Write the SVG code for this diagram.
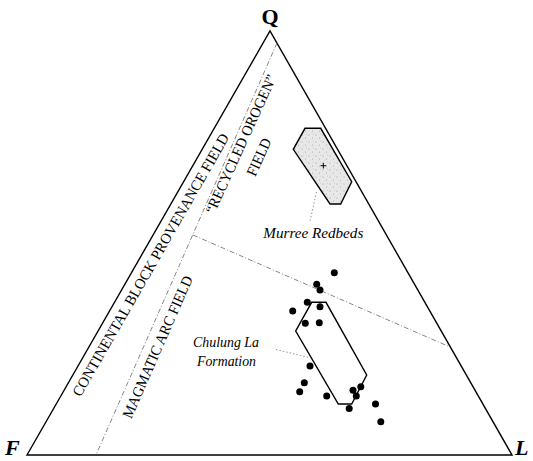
<svg xmlns="http://www.w3.org/2000/svg" width="533" height="461" viewBox="0 0 533 461">
<style>
  .edge { fill: none; stroke: #000; stroke-width: 1.4; stroke-linecap: round; }
  .bound { fill: none; stroke: #666; stroke-width: 0.8; stroke-dasharray: 5 2 1 2; }
  .leader { fill: none; stroke: #777; stroke-width: 0.8; stroke-dasharray: 1.5 2; }
  .poly { stroke: #000; stroke-width: 1.4; stroke-linejoin: miter; }
  .apex { font-family: "Liberation Serif", "Times New Roman", serif; font-weight: bold; font-size: 22px; fill: #000; }
  .field { font-family: "Liberation Serif", "Times New Roman", serif; font-size: 15px; fill: #000; }
  .name { font-family: "Liberation Serif", "Times New Roman", serif; font-style: italic; font-size: 14.5px; fill: #000; }
  .dot { fill: #000; }
</style>
<defs>
  <pattern id="stipple" width="7" height="7" patternUnits="userSpaceOnUse">
    <rect width="7" height="7" fill="#e8e8e8"/>
    <circle cx="1" cy="2" r="0.5" fill="#888"/>
    <circle cx="4.5" cy="5" r="0.5" fill="#999"/>
    <circle cx="5.5" cy="1" r="0.4" fill="#aaa"/>
    <circle cx="2.5" cy="6" r="0.35" fill="#aaa"/>
  </pattern>
</defs>

<g id="frame">
  <path class="edge" d="M27,455 L270,31 L512,455 Z"/>
</g>

<g id="connectors">
  <line class="bound" x1="277" y1="43" x2="96" y2="455"/>
  <line class="bound" x1="193" y1="235" x2="450" y2="347"/>
  <line class="leader" x1="316.5" y1="192" x2="310" y2="221"/>
  <line class="leader" x1="276" y1="349.5" x2="309" y2="357.5"/>
</g>

<g id="apex-labels">
  <text class="apex" x="270" y="24" text-anchor="middle">Q</text>
  <text class="apex" x="5" y="455" font-style="italic" font-size="23">F</text>
  <text class="apex" x="515" y="455" font-style="italic" font-size="23">L</text>
</g>

<g id="field-labels">
  <text class="field" transform="translate(150.7,264.9) rotate(-60.2)" x="-150" y="5" textLength="300" lengthAdjust="spacingAndGlyphs">CONTINENTAL BLOCK PROVENANCE FIELD</text>
  <text class="field" transform="translate(241,144) rotate(-65.5)" x="-75.5" y="5" textLength="151" lengthAdjust="spacingAndGlyphs">“RECYCLED OROGEN”</text>
  <text class="field" transform="translate(259,157) rotate(-65.5)" x="-20" y="5" textLength="40" lengthAdjust="spacingAndGlyphs">FIELD</text>
  <text class="field" transform="translate(157.5,347) rotate(-66.3)" x="-77" y="5" textLength="154" lengthAdjust="spacingAndGlyphs">MAGMATIC ARC FIELD</text>
</g>

<g id="murree">
  <polygon class="poly" fill="url(#stipple)" points="305,128.3 320.7,128.3 351.7,181.7 340.7,204 330,204 293.3,149.3"/>
  <path d="M320.5,165.7 h5.6 M323.3,162.9 v5.6" stroke="#000" stroke-width="1"/>
  <text class="name" x="263.3" y="238" font-size="15" textLength="100" lengthAdjust="spacingAndGlyphs">Murree Redbeds</text>
</g>

<g id="chulung">
  <polygon class="poly" fill="none" points="311.7,302.3 326,302.3 366.7,375 351.7,404 338.3,404 295.7,331"/>
  <text class="name" x="193" y="347" textLength="66" lengthAdjust="spacingAndGlyphs">Chulung La</text>
  <text class="name" x="197" y="366" textLength="59" lengthAdjust="spacingAndGlyphs">Formation</text>
  <g id="samples">
    <circle class="dot" cx="334.3" cy="272.7" r="3.5"/>
    <circle class="dot" cx="316.7" cy="284.3" r="3.5"/>
    <circle class="dot" cx="320" cy="290" r="3.5"/>
    <circle class="dot" cx="307.3" cy="302.3" r="3.5"/>
    <circle class="dot" cx="320" cy="306.7" r="3.5"/>
    <circle class="dot" cx="292.7" cy="311" r="3.5"/>
    <circle class="dot" cx="305.3" cy="323.3" r="3.5"/>
    <circle class="dot" cx="319.3" cy="322.7" r="3.5"/>
    <circle class="dot" cx="310" cy="366" r="3.5"/>
    <circle class="dot" cx="304.3" cy="382.7" r="3.5"/>
    <circle class="dot" cx="299.7" cy="391.7" r="3.5"/>
    <circle class="dot" cx="326.7" cy="396" r="3.5"/>
    <circle class="dot" cx="353" cy="390.3" r="3.5"/>
    <circle class="dot" cx="356.3" cy="396" r="3.5"/>
    <circle class="dot" cx="360.8" cy="386.7" r="3.5"/>
    <circle class="dot" cx="349.2" cy="408.5" r="3.5"/>
    <circle class="dot" cx="375.5" cy="404" r="3.5"/>
    <circle class="dot" cx="380.8" cy="421.7" r="3.5"/>
  </g>
</g>
</svg>
